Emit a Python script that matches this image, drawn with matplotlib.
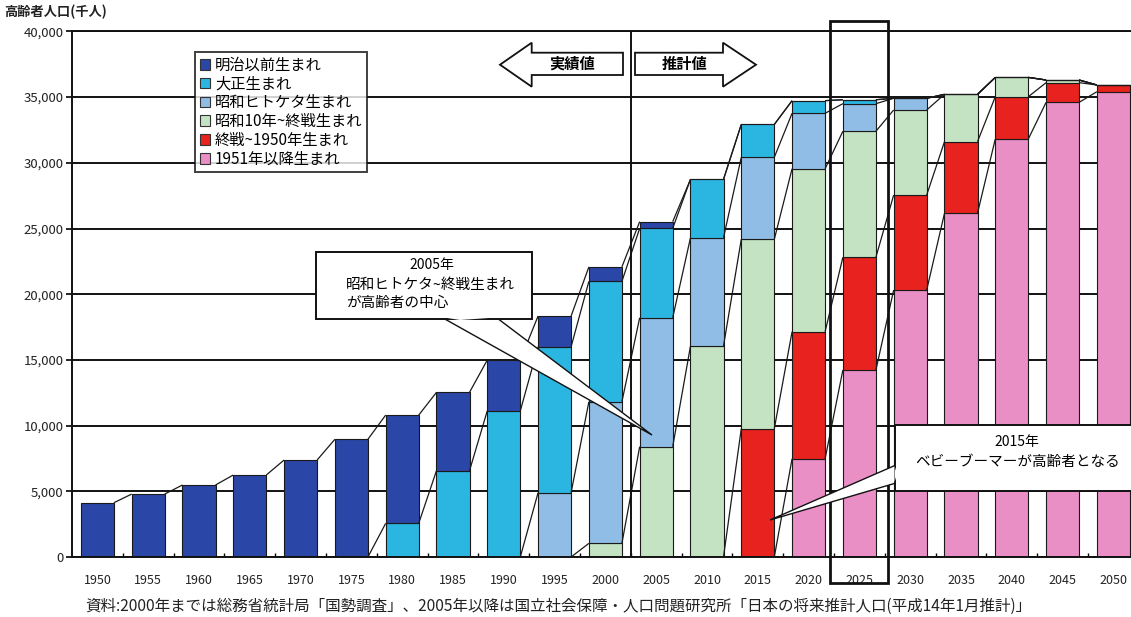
import matplotlib
matplotlib.use("Agg")
import matplotlib.pyplot as plt
import numpy as np
from matplotlib.patches import Patch, Polygon, Rectangle
import matplotlib.transforms as mtransforms

plt.rcParams['font.family'] = ['Noto Sans CJK JP', 'DejaVu Sans']

years = ["1950", "1955", "1960", "1965", "1970", "1975", "1980", "1985", "1990", "1995", "2000",
         "2005", "2010", "2015", "2020", "2025", "2030", "2035", "2040", "2045", "2050"]

# values in thousand persons
meiji    = [4130, 4790, 5480, 6240, 7380, 8960, 8240, 5960, 3860, 2340, 1100, 510, 0, 0, 0, 0, 0, 0, 0, 0, 0]
taisho   = [0, 0, 0, 0, 0, 0, 2560, 6570, 11130, 11100, 9160, 6800, 4440, 2500, 960, 300, 0, 0, 0, 0, 0]
hitoketa = [0, 0, 0, 0, 0, 0, 0, 0, 0, 4900, 10780, 9810, 8240, 6240, 4220, 2100, 890, 0, 0, 0, 0]
s10      = [0, 0, 0, 0, 0, 0, 0, 0, 0, 0, 1040, 8400, 16060, 14410, 12400, 9590, 6470, 3600, 1470, 200, 0]
postwar  = [0, 0, 0, 0, 0, 0, 0, 0, 0, 0, 0, 0, 0, 9770, 9670, 8580, 7230, 5450, 3220, 1500, 510]
after51  = [0, 0, 0, 0, 0, 0, 0, 0, 0, 0, 0, 0, 0, 0, 7480, 14230, 20320, 26160, 31810, 34600, 35410]

labels = ["明治以前生まれ", "大正生まれ", "昭和ヒトケタ生まれ", "昭和10年~終戦生まれ", "終戦~1950年生まれ", "1951年以降生まれ"]
colors = ["#2a46a6", "#2bb6e2", "#8fbde6", "#c4e3c2", "#e8221e", "#e98fc6"]

W, H = 1131, 617
fig = plt.figure(figsize=(W / 100, H / 100), dpi=100)

def fx(x):
    return x / W

def fy(y):
    return 1 - y / H

ax_left, ax_right, ax_top, ax_bot = 72, 72 + 21 * 50.8, 31.4, 557
ax = fig.add_axes([fx(ax_left), fy(ax_bot), (ax_right - ax_left) / W, (ax_bot - ax_top) / H])

x = np.arange(len(years))
bw = 0.65
stack = [after51, postwar, s10, hitoketa, taisho, meiji]   # bottom -> top
stack_colors = colors[::-1]
bottom = np.zeros(len(years))
cums = []
for vals, c in zip(stack, stack_colors):
    v = np.array(vals, dtype=float)
    ax.bar(x, v, bw, bottom=bottom, color=c, edgecolor="#1a1a1a", linewidth=0.8, zorder=2)
    bottom = bottom + v
    cums.append(bottom.copy())

# series lines
for cum in cums:
    for i in range(len(years) - 1):
        ax.plot([i + bw / 2, i + 1 - bw / 2], [cum[i], cum[i + 1]], color="#1a1a1a",
                linewidth=0.9, zorder=3, solid_capstyle="butt")

ax.set_xlim(-0.5, len(years) - 0.5)
ax.set_ylim(0, 40000)
ax.set_yticks(np.arange(0, 40001, 5000))
ax.set_yticklabels([f"{v:,}" for v in range(0, 40001, 5000)], fontsize=9.5, color="#222222")
ax.set_xticks(x)
ax.set_xticklabels(years, fontsize=9, color="#222222")
ax.set_xticks(x[:-1] + 0.5, minor=True)
ax.tick_params(axis="x", which="major", length=0, pad=12)
ax.tick_params(axis="x", which="minor", length=3, direction="in", width=1)
ax.tick_params(axis="y", length=4, width=1.2, pad=2)
ax.yaxis.grid(True, color="#111111", linewidth=1.4)
ax.set_axisbelow(True)
for s in ["top", "left", "bottom"]:
    ax.spines[s].set_linewidth(1.4)
    ax.spines[s].set_color("#111111")
ax.spines["right"].set_visible(False)

# vertical separator between actual and projected
ax.axvline(10.5, color="#111111", linewidth=1.4, zorder=4)

# box around 2025
trans = mtransforms.blended_transform_factory(ax.transData, ax.transAxes)
y_top = (ax_bot - 21) / (ax_bot - ax_top)
y_bot = (ax_bot - 583) / (ax_bot - ax_top)
ax.add_patch(Rectangle((14.42, y_bot), 1.14, y_top - y_bot, transform=trans, fill=False,
                       edgecolor="#111111", linewidth=2, clip_on=False, zorder=6))

# y label
fig.text(fx(4), fy(12), "高齢者人口(千人)", fontsize=9.5, fontweight="bold", va="center", ha="left", color="#222222")

# legend
handles = [Patch(facecolor=c, edgecolor="#333333", linewidth=0.8) for c in colors]
leg = fig.legend(handles, labels, loc="upper left", bbox_to_anchor=(fx(195), fy(52)),
                 fontsize=11, frameon=True, fancybox=False, handlelength=0.7, handleheight=0.7,
                 handletextpad=0.3, labelspacing=0.12, borderpad=0.3, borderaxespad=0)
leg.get_frame().set_edgecolor("#111111")
leg.get_frame().set_linewidth(1.4)

# arrows
def pts(lst):
    return [(fx(a), fy(b)) for a, b in lst]

left_arrow = [(500, 64.7), (531.7, 42.7), (531.7, 52.7), (623, 52.7), (623, 75), (531.7, 75), (531.7, 86.7)]
right_arrow = [(635, 52.7), (723, 52.7), (723, 42.7), (756, 64.7), (723, 86.7), (723, 75), (635, 75)]
for poly in (left_arrow, right_arrow):
    fig.patches.append(Polygon(pts(poly), closed=True, facecolor="white", edgecolor="#111111",
                               linewidth=1.3, transform=fig.transFigure, zorder=5))
fig.text(fx(572), fy(64), "実績値", fontsize=11, fontweight="bold", ha="center", va="center", zorder=6)
fig.text(fx(685), fy(64), "推計値", fontsize=11, fontweight="bold", ha="center", va="center", zorder=6)

# callout 1
fig.patches.append(Polygon(pts([(443, 318), (497, 318), (652, 435)]), closed=True, facecolor="white",
                           edgecolor="#111111", linewidth=1.0, transform=fig.transFigure, zorder=5))
fig.patches.append(Rectangle((fx(316), fy(319)), (531.7 - 316) / W, (319 - 251.7) / H, facecolor="white",
                             edgecolor="#111111", linewidth=1.4, transform=fig.transFigure, zorder=5))
fig.patches.append(Polygon(pts([(444, 317.5), (496, 317.5), (460, 320)]), closed=True, facecolor="white",
                           edgecolor="none", transform=fig.transFigure, zorder=5.5))
fig.text(fx(432), fy(265), "2005年", fontsize=10, ha="center", va="center", zorder=7)
fig.text(fx(346), fy(285), "昭和ヒトケタ~終戦生まれ", fontsize=10.5, ha="left", va="center", zorder=7)
fig.text(fx(346), fy(303), "が高齢者の中心", fontsize=10.5, ha="left", va="center", zorder=7)

# callout 2
fig.patches.append(Polygon(pts([(896, 465), (896, 483), (770, 520)]), closed=True, facecolor="white",
                           edgecolor="#111111", linewidth=1.0, transform=fig.transFigure, zorder=5))
fig.patches.append(Rectangle((fx(895), fy(491)), (1140 - 895) / W, (491 - 425) / H, facecolor="white",
                             edgecolor="#111111", linewidth=1.4, transform=fig.transFigure, zorder=5))
fig.patches.append(Polygon(pts([(894.5, 466), (894.5, 482), (897, 474)]), closed=True, facecolor="white",
                           edgecolor="none", transform=fig.transFigure, zorder=5.5))
fig.text(fx(1017), fy(442), "2015年", fontsize=10, ha="center", va="center", zorder=7)
fig.text(fx(1018), fy(462), "ベビーブーマーが高齢者となる", fontsize=10.5, ha="center", va="center", zorder=7)

# source
fig.text(fx(85), fy(606),
         "資料:2000年までは総務省統計局「国勢調査」、2005年以降は国立社会保障・人口問題研究所「日本の将来推計人口(平成14年1月推計)」",
         fontsize=11.2, ha="left", va="center", color="#222222")

fig.savefig("out.png", dpi=100)
